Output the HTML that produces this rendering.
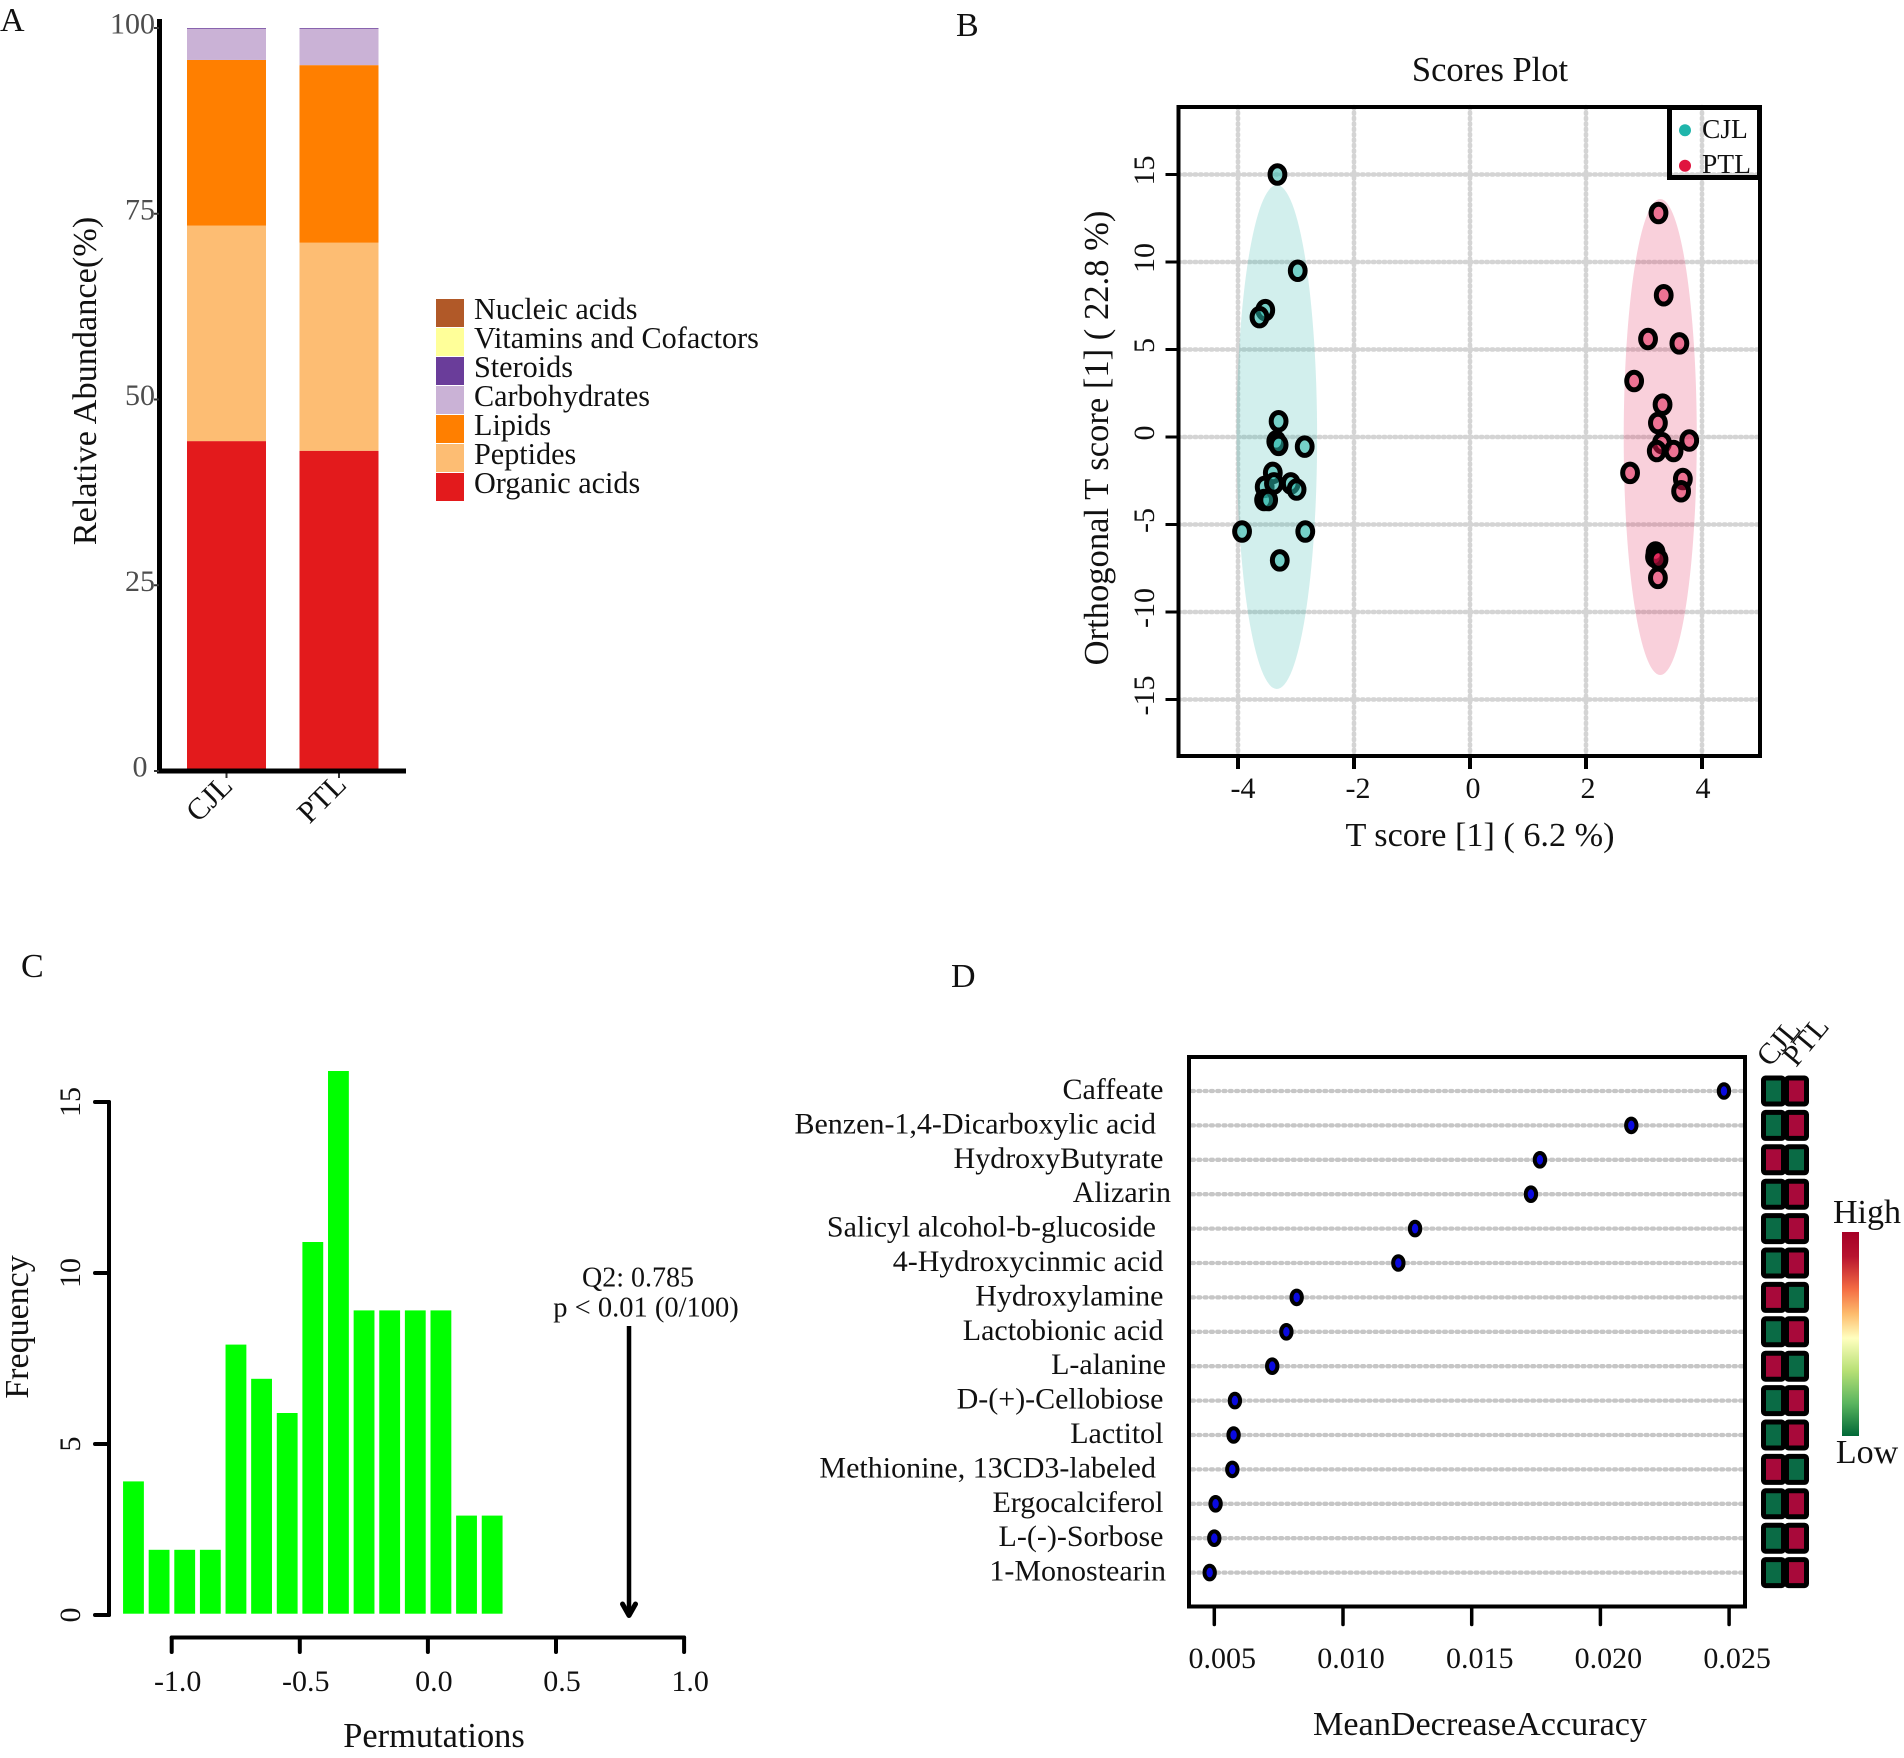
<!DOCTYPE html>
<html lang="en">
<head>
<meta charset="utf-8">
<title>Metabolomics four-panel figure</title>
<style>
html,body{margin:0;padding:0;background:#fff;}
svg{display:block;}
text{font-family:"Liberation Serif","DejaVu Serif",serif;fill:#111;}
</style>
</head>
<body>
<svg id="figure" xmlns="http://www.w3.org/2000/svg" width="1904" height="1758" viewBox="0 0 1904 1758">
  <rect x="0" y="0" width="1904" height="1758" fill="#fff"/>
  <defs>
    <linearGradient id="heat-gradient" x1="0" y1="0" x2="0" y2="1">
      <stop offset="0" stop-color="#a50026"/>
      <stop offset="0.12" stop-color="#b8132f"/>
      <stop offset="0.28" stop-color="#f46d43"/>
      <stop offset="0.4" stop-color="#fdbb6c"/>
      <stop offset="0.52" stop-color="#ffffbf"/>
      <stop offset="0.68" stop-color="#b7e075"/>
      <stop offset="0.84" stop-color="#5ab55f"/>
      <stop offset="1" stop-color="#006837"/>
    </linearGradient>
  </defs>
  <text x="0" y="31" font-size="34">A</text>
  <text x="956" y="36" font-size="34">B</text>
  <text x="21" y="977" font-size="34">C</text>
  <text x="951" y="987" font-size="34">D</text>

  <g id="panel-a"></g>
  <g id="panel-b"></g>
  <g id="panel-c"></g>
  <g id="panel-d"></g>
</svg>
<script>
/* ---------- Panel A data ---------- */
const abundanceGroups = ['CJL', 'PTL'];
const abundanceClasses = ['Organic acids', 'Peptides', 'Lipids', 'Carbohydrates', 'Steroids', 'Vitamins and Cofactors', 'Nucleic acids'];
const abundanceCJL = [44.4, 29.0, 22.3, 4.2, 0.1, 0, 0];
const abundancePTL = [43.1, 28.0, 23.9, 4.9, 0.1, 0, 0];
const abundanceTicks = [0, 25, 50, 75, 100];
const abundanceTickLabels = ['0\u00a0', '25', '50', '75', '100'];

/* ---------- Panel B data ---------- */
const scoresXTicks = [-4, -2, 0, 2, 4];
const scoresYTicks = [-15, -10, -5, 0, 5, 10, 15];
const cjlScoreT = [-3.32, -2.97, -3.53, -3.63, -3.30, -3.34, -3.30, -2.85, -3.40, -3.54, -3.38, -3.09, -2.99, -3.55, -3.48, -3.93, -2.84, -3.28];
const cjlScoreO = [15, 9.5, 7.25, 6.85, 0.9, -0.25, -0.45, -0.55, -2.05, -2.85, -2.65, -2.65, -3.0, -3.6, -3.6, -5.4, -5.4, -7.05];
const ptlScoreT = [3.25, 3.34, 3.07, 3.61, 2.83, 3.32, 3.24, 3.78, 3.31, 3.22, 3.51, 2.76, 3.67, 3.64, 3.20, 3.19, 3.25, 3.24];
const ptlScoreO = [12.8, 8.1, 5.6, 5.35, 3.2, 1.85, 0.8, -0.2, -0.35, -0.8, -0.8, -2.05, -2.4, -3.1, -6.6, -6.85, -7.0, -8.05];
const cjlRegion = [-3.33, 0, 0.70, 14.4];
const ptlRegion = [3.28, 0, 0.63, 13.6];

/* ---------- Panel C data ---------- */
const permutationBinStarts = [-1.2, -1.1, -1.0, -0.9, -0.8, -0.7, -0.6, -0.5, -0.4, -0.3, -0.2, -0.1, 0.0, 0.1, 0.2];
const permutationCounts = [4, 2, 2, 2, 8, 7, 6, 11, 16, 9, 9, 9, 9, 3, 3];
const permutationXTicks = ['-1.0', '-0.5', '0.0', '0.5', '1.0'];
const permutationYTicks = [0, 5, 10, 15];
const observedQ2 = 0.785;

/* ---------- Panel D data ---------- */
const metaboliteNames = ['Caffeate\u00a0', 'Benzen-1,4-Dicarboxylic acid\u00a0\u00a0', 'HydroxyButyrate\u00a0', 'Alizarin', 'Salicyl alcohol-b-glucoside\u00a0\u00a0', '4-Hydroxycinmic acid\u00a0', 'Hydroxylamine\u00a0', 'Lactobionic acid\u00a0', 'L-alanine\u2006', 'D-(+)-Cellobiose\u00a0', 'Lactitol\u00a0', 'Methionine, 13CD3-labeled\u00a0\u00a0', 'Ergocalciferol\u00a0', 'L-(-)-Sorbose\u00a0', '1-Monostearin\u2006'];
const meanDecreaseAccuracy = [0.0248, 0.0212, 0.01765, 0.0173, 0.0128, 0.01215, 0.0082, 0.0078, 0.00725, 0.0058, 0.00575, 0.0057, 0.00505, 0.0050, 0.00482];
const accuracyTicks = ['0.005', '0.010', '0.015', '0.020', '0.025'];
const heatGroups = ['CJL', 'PTL'];
const heatCJL = [0, 0, 1, 0, 0, 0, 1, 0, 1, 0, 0, 1, 0, 0, 0];
const heatPTL = [1, 1, 0, 1, 1, 1, 0, 1, 0, 1, 1, 0, 1, 1, 1];

/* ---------- Styling ---------- */
const classColors = ['#e31a1c', '#fdbd73', '#ff7f00', '#cab2d6', '#6a3d9a', '#ffff99', '#b15928'];
const NS = 'http://www.w3.org/2000/svg';

function mk(parent, tag, attrs, txt) {
  const el = document.createElementNS(NS, tag);
  for (const k in attrs) el.setAttribute(k, attrs[k]);
  if (txt !== undefined) el.textContent = txt;
  parent.appendChild(el);
  return el;
}
function slug(s) {
  return String(s).toLowerCase().replace(/[^a-z0-9]+/g, '-').replace(/^-|-$/g, '');
}

/* ================= Panel A ================= */
(function () {
  const g = document.getElementById('panel-a');
  const yA = v => 771 - v * 7.43;
  const barLeft = [187, 299.5];
  const barW = 79;
  const groupSeries = [abundanceCJL, abundancePTL];

  groupSeries.forEach((series, gi) => {
    let cum = 0;
    series.forEach((v, ci) => {
      if (v <= 0) return;
      const r = mk(g, 'rect', {x: barLeft[gi], y: yA(cum + v), width: barW, height: yA(cum) - yA(cum + v), fill: classColors[ci]});
      
      
      cum += v;
    });
    const t = mk(g, 'line', {x1: barLeft[gi] + barW / 2, x2: barLeft[gi] + barW / 2, y1: 771, y2: 778, stroke: '#333', 'stroke-width': 2});
    
    
    const cx = barLeft[gi] + barW / 2 - 23;
    const lab = mk(g, 'text', {x: cx + 8, y: 814, 'font-size': 30.5, 'text-anchor': 'middle', transform: 'rotate(-45 ' + cx + ' 804)'}, abundanceGroups[gi]);
    
    
  });

  const yAxis = mk(g, 'line', {x1: 159.5, x2: 159.5, y1: 19, y2: 773, stroke: '#000', 'stroke-width': 5});
  
  
  const xAxis = mk(g, 'line', {x1: 157, x2: 406, y1: 771, y2: 771, stroke: '#000', 'stroke-width': 5});
  
  

  abundanceTicks.forEach((v, i) => {
    const tk = mk(g, 'line', {x1: 154, x2: 159, y1: yA(v), y2: yA(v), stroke: '#333', 'stroke-width': 2});
    
    
    const lb = mk(g, 'text', {x: 155, y: yA(v) + 5.5, 'font-size': 30, 'text-anchor': 'end', style: 'fill:#4d4d4d'}, abundanceTickLabels[i]);
    
    
  });

  const yt = mk(g, 'text', {x: 0, y: 0, 'font-size': 34.3, 'text-anchor': 'middle', transform: 'translate(96 381) rotate(-90)'}, 'Relative Abundance(%)');
  
  

  abundanceClasses.forEach((name, i) => {
    const rowY = 473 - (i * 29);
    const sw = mk(g, 'rect', {x: 436, y: rowY, width: 28, height: 28, fill: classColors[i]});
    
    
    const tx = mk(g, 'text', {x: 474, y: rowY + 19.8, 'font-size': 30.2}, name);
    
    
  });
})();

/* ================= Panel B ================= */
(function () {
  const g = document.getElementById('panel-b');
  const xB = v => 1470 + v * 58;
  const yB = v => 437 - v * 17.5;
  const left = 1178.5, right = 1760, top = 107, bottom = 756;

  scoresXTicks.forEach(v => {
    const l = mk(g, 'line', {x1: xB(v), x2: xB(v), y1: top, y2: bottom, stroke: '#d4d4d4', 'stroke-width': 4.6, 'stroke-dasharray': '1.5 3.9', 'stroke-linecap': 'round'});
    
    
  });
  scoresYTicks.forEach(v => {
    const l = mk(g, 'line', {x1: left, x2: right, y1: yB(v), y2: yB(v), stroke: '#d4d4d4', 'stroke-width': 4.6, 'stroke-dasharray': '1.5 3.9', 'stroke-linecap': 'round'});
    
    
  });

  const e1 = mk(g, 'ellipse', {cx: xB(cjlRegion[0]), cy: yB(cjlRegion[1]), rx: cjlRegion[2] * 57.5, ry: cjlRegion[3] * 17.5, fill: '#2ab5a8', 'fill-opacity': 0.21});
  
  
  const e2 = mk(g, 'ellipse', {cx: xB(ptlRegion[0]), cy: yB(ptlRegion[1]), rx: ptlRegion[2] * 58, ry: ptlRegion[3] * 17.5, fill: '#e0144c', 'fill-opacity': 0.2});
  
  

  cjlScoreT.forEach((t, i) => {
    const p = mk(g, 'ellipse', {cx: xB(t), cy: yB(cjlScoreO[i]), rx: 7.4, ry: 8.8, fill: '#2ab7a9', 'fill-opacity': 0.55, stroke: '#000', 'stroke-width': 5});
    
    
  });
  ptlScoreT.forEach((t, i) => {
    const p = mk(g, 'ellipse', {cx: xB(t), cy: yB(ptlScoreO[i]), rx: 7.4, ry: 8.8, fill: '#e0144c', 'fill-opacity': 0.5, stroke: '#000', 'stroke-width': 5});
    
    
  });

  const box = mk(g, 'rect', {x: left, y: top, width: right - left, height: bottom - top, fill: 'none', stroke: '#000', 'stroke-width': 4});
  
  

  scoresXTicks.forEach(v => {
    const t = mk(g, 'line', {x1: xB(v), x2: xB(v), y1: bottom, y2: bottom + 13, stroke: '#000', 'stroke-width': 4});
    
    
    const lb = mk(g, 'text', {x: 1473 + v * 57.5, y: 798, 'font-size': 30, 'text-anchor': 'middle'}, v);
    
    
  });
  scoresYTicks.forEach(v => {
    const t = mk(g, 'line', {x1: left - 13, x2: left, y1: yB(v), y2: yB(v), stroke: '#000', 'stroke-width': 3});
    
    
    const lb = mk(g, 'text', {x: 0, y: 0, 'font-size': 30, 'text-anchor': 'middle', transform: 'translate(1154 ' + (yB(v) - 4) + ') rotate(-90)'}, v);
    
    
  });

  const title = mk(g, 'text', {x: 1490, y: 81, 'font-size': 34.5, 'text-anchor': 'middle'}, 'Scores Plot');
  
  
  const xt = mk(g, 'text', {x: 1480, y: 846, 'font-size': 34.2, 'text-anchor': 'middle'}, 'T score [1] ( 6.2 %)');
  
  
  const yt = mk(g, 'text', {x: 0, y: 0, 'font-size': 34.6, 'text-anchor': 'middle', transform: 'translate(1108 438) rotate(-90)'}, 'Orthogonal T score [1] ( 22.8 %)');
  
  

  const lg = mk(g, 'rect', {x: 1669.5, y: 107.5, width: 90, height: 70, fill: 'none', stroke: '#000', 'stroke-width': 5});
  
  
  const d1 = mk(g, 'circle', {cx: 1685, cy: 130.3, r: 6, fill: '#1fb5ab'});
  
  
  const d2 = mk(g, 'circle', {cx: 1685, cy: 165.7, r: 6, fill: '#e0143f'});
  
  
  const l1 = mk(g, 'text', {x: 1702, y: 138, 'font-size': 27.5}, 'CJL');
  
  
  const l2 = mk(g, 'text', {x: 1702, y: 173, 'font-size': 27.5}, 'PTL');
  
  
})();

/* ================= Panel C ================= */
(function () {
  const g = document.getElementById('panel-c');
  const xC = v => 427.9 + v * 256.2;
  const yC = v => 1615 - v * 34.2;
  const binWidth = 0.1;

  permutationBinStarts.forEach((s, i) => {
    const x0 = xC(s) + 2.6;
    const x1 = xC(s + binWidth) - 2.2;
    const topY = yC(permutationCounts[i]) + 3.2;
    const r = mk(g, 'rect', {x: x0, y: topY, width: x1 - x0, height: 1613.7 - topY, fill: '#00ff00'});
    
    
  });

  const yAxis = mk(g, 'line', {x1: 109, x2: 109, y1: yC(15), y2: yC(0), stroke: '#000', 'stroke-width': 4, 'stroke-linecap': 'round'});
  
  
  permutationYTicks.forEach(v => {
    const t = mk(g, 'line', {x1: 95, x2: 109, y1: yC(v), y2: yC(v), stroke: '#000', 'stroke-width': 4, 'stroke-linecap': 'round'});
    
    
    const lb = mk(g, 'text', {x: 0, y: 0, 'font-size': 30, 'text-anchor': 'middle', transform: 'translate(80 ' + yC(v) + ') rotate(-90)'}, v);
    
    
  });

  const xAxis = mk(g, 'line', {x1: xC(-1), x2: xC(1), y1: 1637.5, y2: 1637.5, stroke: '#000', 'stroke-width': 4, 'stroke-linecap': 'round'});
  
  
  permutationXTicks.forEach(v => {
    const val = parseFloat(v);
    const t = mk(g, 'line', {x1: xC(val), x2: xC(val), y1: 1637.5, y2: 1652, stroke: '#000', 'stroke-width': 4, 'stroke-linecap': 'round'});
    
    
    const lb = mk(g, 'text', {x: xC(val) + 6, y: 1691, 'font-size': 30, 'text-anchor': 'middle'}, v);
    
    
  });

  const ax = xC(observedQ2);
  const shaft = mk(g, 'line', {x1: ax, x2: ax, y1: 1326, y2: 1614, stroke: '#000', 'stroke-width': 4.5});
  
  
  const head = mk(g, 'path', {d: 'M' + (ax - 6.5) + ' 1604 L' + ax + ' 1615.5 L' + (ax + 6.5) + ' 1604', fill: 'none', stroke: '#000', 'stroke-width': 5, 'stroke-linecap': 'round', 'stroke-linejoin': 'round'});
  
  

  const q = mk(g, 'text', {x: 638, y: 1286.5, 'font-size': 28, 'text-anchor': 'middle'}, 'Q2: ' + observedQ2);
  
  
  const p = mk(g, 'text', {x: 646, y: 1316.5, 'font-size': 28.5, 'text-anchor': 'middle'}, 'p < 0.01 (0/100)');
  
  

  const xt = mk(g, 'text', {x: 434, y: 1747, 'font-size': 34.4, 'text-anchor': 'middle'}, 'Permutations');
  
  
  const yt = mk(g, 'text', {x: 0, y: 0, 'font-size': 34, 'text-anchor': 'middle', transform: 'translate(28 1327) rotate(-90)'}, 'Frequency');
  
  
})();

/* ================= Panel D ================= */
(function () {
  const g = document.getElementById('panel-d');
  const xD = v => 1214.3 + (v - 0.005) * 25740;
  const rowY = i => 1091 + i * 34.4;
  const left = 1189, right = 1745, top = 1057, bottom = 1606.5;
  const heatColor = v => (v > 0.5 ? '#a8093a' : '#0a6b45');

  metaboliteNames.forEach((name, i) => {
    const l = mk(g, 'line', {x1: left + 3, x2: right - 2, y1: rowY(i), y2: rowY(i), stroke: '#c6c6c6', 'stroke-width': 4.3, 'stroke-dasharray': '2 4.3', 'stroke-linecap': 'round'});
    
    
    const lb = mk(g, 'text', {x: 1171, y: rowY(i) + 8, 'font-size': 30, 'text-anchor': 'end'}, name);
    
    
    const d = mk(g, 'ellipse', {cx: xD(meanDecreaseAccuracy[i]), cy: rowY(i), rx: 5.2, ry: 6.8, fill: '#0a0ae0', stroke: '#000', 'stroke-width': 4});
    
    
    const c1 = mk(g, 'rect', {x: 1763.5, y: rowY(i) - 13, width: 20, height: 26, rx: 2, fill: heatColor(heatCJL[i]), stroke: '#000', 'stroke-width': 5});
    
    
    const c2 = mk(g, 'rect', {x: 1786.5, y: rowY(i) - 13, width: 20, height: 26, rx: 2, fill: heatColor(heatPTL[i]), stroke: '#000', 'stroke-width': 5});
    
    
  });

  const box = mk(g, 'rect', {x: left, y: top, width: right - left, height: bottom - top, fill: 'none', stroke: '#000', 'stroke-width': 4});
  
  

  accuracyTicks.forEach(v => {
    const val = parseFloat(v);
    const t = mk(g, 'line', {x1: xD(val), x2: xD(val), y1: bottom, y2: bottom + 18, stroke: '#000', 'stroke-width': 3.5, 'stroke-linecap': 'round'});
    
    
    const lb = mk(g, 'text', {x: xD(val) + 8, y: 1668, 'font-size': 30, 'text-anchor': 'middle'}, v);
    
    
  });

  const xt = mk(g, 'text', {x: 1480, y: 1735, 'font-size': 34.2, 'text-anchor': 'middle'}, 'MeanDecreaseAccuracy');
  
  

  heatGroups.forEach((name, i) => {
    const lx = 1770 + i * 26;
    const lb = mk(g, 'text', {x: 0, y: 0, 'font-size': 30, transform: 'translate(' + lx + ' 1068) rotate(-50)'}, name);
    
    
  });

  const bar = mk(g, 'rect', {x: 1842, y: 1232, width: 17, height: 204, fill: 'url(#heat-gradient)'});
  
  
  const hi = mk(g, 'text', {x: 1867, y: 1223, 'font-size': 34, 'text-anchor': 'middle'}, 'High');
  
  
  const lo = mk(g, 'text', {x: 1867, y: 1463, 'font-size': 34, 'text-anchor': 'middle'}, 'Low');
  
  
})();
</script>
</body>
</html>
